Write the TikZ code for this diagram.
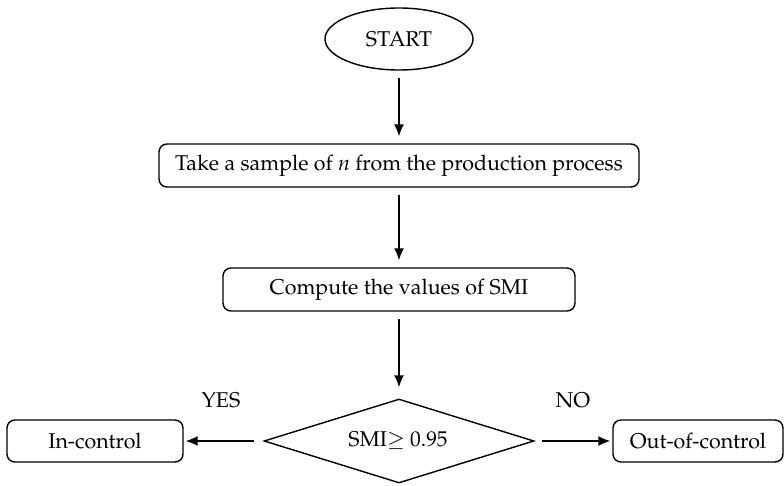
\documentclass[tikz,border=0pt]{standalone}
\usepackage[T1]{fontenc}
\usepackage{mathpazo}
\usetikzlibrary{shapes.geometric,arrows.meta}
\tikzset{
  base/.style={draw=black, line width=1.4pt, inner sep=0pt, font=\fontsize{21.4}{25}\selectfont},
  rbox/.style={base, rectangle, rounded corners=8pt, minimum height=43pt},
  oval/.style={base, ellipse, minimum width=148pt, minimum height=62pt},
  decision/.style={base, diamond, minimum width=270pt, minimum height=84pt, aspect=3.2},
  lbl/.style={inner sep=0pt, font=\fontsize{21.4}{25}\selectfont},
  arr/.style={line width=1.5pt, -{Latex[length=12pt,width=10pt]}, shorten <=7pt, shorten >=7pt}
}
\begin{document}
\begin{tikzpicture}[x=1pt, y=-1pt]
\useasboundingbox (0,0) rectangle (784,485);
\node[oval] (start) at (399,39) {START};
\node[rbox, minimum width=480pt] (sample) at (399,165.5) {Take a sample of \textit{n} from the production process};
\node[rbox, minimum width=352pt] (compute) at (399,289.5) {Compute the values of SMI};
\node[decision] (dec) at (399,441) {};
\node[lbl] (dectext) at (398,441) {SMI$\geq$ 0.95};
\node[rbox, minimum width=176pt, minimum height=42pt] (inc) at (95,441) {In-control};
\node[rbox, minimum width=170pt, minimum height=42pt] (outc) at (698,441) {Out-of-control};
\node[lbl] (yes) at (221,400) {YES};
\node[lbl] (no) at (573,400) {NO};
\draw[arr] (start) -- (sample);
\draw[arr] (sample) -- (compute);
\draw[arr, shorten >=11pt] (compute) -- (dec);
\draw[arr, shorten <=9pt, shorten >=2pt] (dec.west) -- (inc.east);
\draw[arr, shorten >=2pt] (dec.east) -- (outc.west);
\end{tikzpicture}
\end{document}
